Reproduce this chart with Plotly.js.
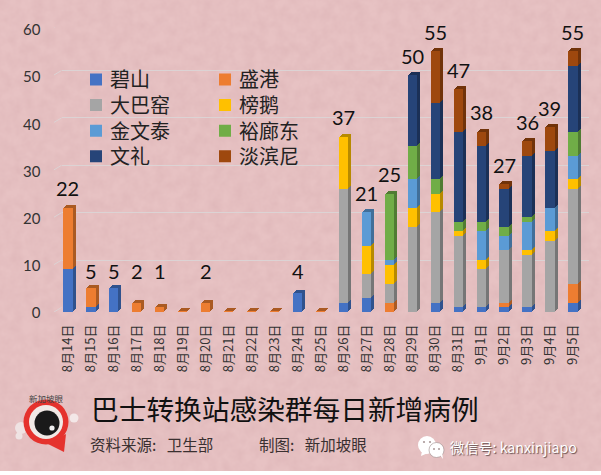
<!DOCTYPE html>
<html><head><meta charset="utf-8">
<script src="https://cdn.plot.ly/plotly-3.0.1.min.js"></script>
<style>
html,body{margin:0;padding:0;background:#fff;width:601px;height:475px;overflow:hidden}
#bg{position:absolute;left:0;top:0;width:601px;height:471px;background-color:#e7c2c3;
background-image:url("data:image/svg+xml;utf8,<svg xmlns='http://www.w3.org/2000/svg' width='601' height='471'><filter id='n'><feTurbulence type='fractalNoise' baseFrequency='0.09' numOctaves='3' seed='4'/><feColorMatrix values='0 0 0 0 0.62  0 0 0 0 0.36  0 0 0 0 0.38  0.42 0 0 0 -0.11'/></filter><rect width='601' height='471' filter='url(%23n)'/></svg>");}
#chart{position:absolute;left:0;top:0;width:601px;height:475px}
#chart .infolayer text[class^="legend"]{transform:translateX(-6px)}
</style></head><body>
<div id="bg"></div><div id="chart"></div>
<script>
const categories=['8月14日','8月15日','8月16日','8月17日','8月18日','8月19日','8月20日','8月21日','8月22日','8月23日','8月24日','8月25日','8月26日','8月27日','8月28日','8月29日','8月30日','8月31日','9月1日','9月2日','9月3日','9月4日','9月5日'];
const totals=[22,5,5,2,1,0,2,0,0,0,4,0,37,21,25,50,55,47,38,27,36,39,55];
const bishan =[9,1,5,0,0,0,0,0,0,0,4,0,2,3,0,0,2,1,1,1,1,0,2];
const shenggang=[13,4,0,2,1,0.2,2,0.2,0.2,0.2,0,0.2,0,0,2,0,0,0,0,1,0,0,4];
const toapayoh=[0,0,0,0,0,0,0,0,0,0,0,0,24,5,4,18,19,15,8,11,11,15,20];
const punggol=[0,0,0,0,0,0,0,0,0,0,0,0,11,6,4,4,4,1,2,0,1,2,2];
const jurong=[0,0,0,0,0,0,0,0,0,0,0,0,0,7,1,6,0,0,6,3,6,5,5];
const yulang=[0,0,0,0,0,0,0,0,0,0,0,0,0,0,14,7,3,2,2,2,1,0,5];
const wenli=[0,0,0,0,0,0,0,0,0,0,0,0,0,0,0,15,16,19,16,8,13,12,14];
const tampines=[0,0,0,0,0,0,0,0,0,0,0,0,0,0,0,0,11,9,3,1,3,5,3];
const seriesNames=['碧山','盛港','大巴窑','榜鹅','金文泰','裕廊东','文礼','淡滨尼'];
const seriesValues=[bishan,shenggang,toapayoh,punggol,jurong,yulang,wenli,tampines];
const seriesColors=['#4472c4','#ed7d31','#a5a5a5','#ffc000','#5b9bd5','#70ad47','#264478','#9e480e'];
const yTicks=[0,10,20,30,40,50,60];

const W=601,H=475;
const left=56.5,right=584.4,y0=312,y60=27.6;
const px=(v)=>v/W, py=(v)=>1-v/H;
function dark(hex,f){const n=parseInt(hex.slice(1),16);return `rgb(${(n>>16&255)*f|0},${(n>>8&255)*f|0},${(n&255)*f|0})`;}

const traces=[],layout={
  width:W,height:H,margin:{l:0,r:0,t:0,b:0,pad:0},paper_bgcolor:'rgba(0,0,0,0)',plot_bgcolor:'rgba(0,0,0,0)',
  barmode:'stack',bargap:0.6,showlegend:true,
  font:{family:'"Noto Sans CJK SC","Noto Sans",sans-serif',color:'#222'},
  annotations:[],shapes:[]
};
function axes(i,dx,dy,xo,yo){
  const sx=i===1?'xaxis':'xaxis'+i, sy=i===1?'yaxis':'yaxis'+i;
  layout[sx]=Object.assign({type:'category',categoryorder:'array',categoryarray:categories,range:[-0.5,22.5],
    domain:[px(left+dx),px(right+dx)],anchor:i===1?'y':'y'+i,showgrid:false,zeroline:false,showline:false,showticklabels:false,ticks:''},xo||{});
  layout[sy]=Object.assign({range:[0,60],domain:[py(y0-dy),py(y60-dy)],anchor:i===1?'x':'x'+i,showgrid:false,zeroline:false,showline:false,showticklabels:false,ticks:'',tickmode:'array',tickvals:yTicks},yo||{});
}
// back wall gridlines
axes(1,5,4.5,{},{showgrid:true,gridcolor:'#dcd3d4',gridwidth:1.2});
traces.push({type:'scatter',x:[categories[0]],y:[0],mode:'none',xaxis:'x',yaxis:'y',showlegend:false,hoverinfo:'skip'});
// extrusion layers behind the front faces
const layers=[[3,3],[2,2],[1,1]];
layers.forEach((o,k)=>{
  const i=k+2;
  axes(i,o[0],o[1]);
  seriesValues.forEach((v,s)=>traces.push({type:'bar',x:categories,y:v,name:seriesNames[s],xaxis:'x'+i,yaxis:'y'+i,showlegend:false,hoverinfo:'skip',
    marker:{color:dark(seriesColors[s],0.72),line:{width:0}}}));
});
// front faces with the visible x axis
axes(5,0,0,{showticklabels:true,tickangle:-90,tickmode:'array',tickvals:categories,ticktext:categories,tickfont:{size:13,color:'#333'},ticklabelstandoff:9});
// each legend entry is placed on a two-column, four-row block
const legendCells=[[76,0],[205,0],[76,1],[205,1],[76,2],[205,2],[76,3],[205,3]];
seriesValues.forEach((v,s)=>{
  const key=s===0?'legend':'legend'+(s+1);
  traces.push({type:'bar',x:categories,y:v,name:seriesNames[s],xaxis:'x5',yaxis:'y5',legend:key,marker:{color:seriesColors[s],line:{width:0}},hoverinfo:'skip'});
  layout[key]={x:px(legendCells[s][0]),y:py(60+legendCells[s][1]*25.6),xanchor:'left',yanchor:'top',font:{size:20,color:'#222'},bgcolor:'rgba(0,0,0,0)',itemclick:false,itemdoubleclick:false};
});
// value axis labels
axes(6,0,0,{},{domain:[py(313),py(30)],showticklabels:true,ticktext:yTicks.map(String),tickfont:{size:15,color:'#333',family:'Lato,sans-serif'},ticklabelstandoff:15});
traces.push({type:'scatter',x:[categories[0]],y:[0],mode:'none',xaxis:'x6',yaxis:'y6',showlegend:false,hoverinfo:'skip'});

// total labels
categories.forEach((c,i)=>{ if(!totals[i])return;
  const t=totals[i];
  layout.annotations.push({x:c,y:t<=5?8.7:t+4.1,xref:'x5',yref:'y5',text:String(t),showarrow:false,
    font:{size:20,color:'#111',family:'Lato,sans-serif'},xanchor:'center',yanchor:'middle'});
});
// floor / wall joints
yTicks.forEach(v=>layout.shapes.push({type:'line',xref:'paper',yref:'y5',x0:px(54),x1:px(61.5),y0:v,y1:v+0.95,line:{color:'#dcd3d4',width:1},layer:'below'}));

function note(x,y,text,size,color,anchor,extra){
  layout.annotations.push(Object.assign({xref:'paper',yref:'paper',x:px(x),y:py(y),text:text,showarrow:false,xanchor:anchor||'left',yanchor:'middle',
    font:Object.assign({size:size,color:color},extra||{})}));
}
note(89,407.5,'巴士转换站感染群每日新增病例',27.7,'#111');
note(88,444,'资料来源: &nbsp;&nbsp;卫生部',15.5,'#3a3030');
note(257,444,'制图: &nbsp;&nbsp;新加坡眼',15.5,'#3a3030');
note(448,447,'微信号: kanxinjiapo',14.2,'#fff','left',{shadow:'1px 1px 1px rgba(60,40,40,0.75)'});
note(46,397.5,'新加坡眼',8.5,'#444','center');

function circle(cx,cy,r,color,lc){layout.shapes.push({type:'circle',xref:'paper',yref:'paper',x0:px(cx-r),x1:px(cx+r),y0:py(cy+r),y1:py(cy-r),fillcolor:color,line:lc?{width:0.6,color:lc}:{width:0},layer:'above'});}
function path(pts,color){layout.shapes.push({type:'path',xref:'paper',yref:'paper',path:'M'+pts.map(p=>px(p[0])+','+py(p[1])).join('L')+'Z',fillcolor:color,line:{width:0},layer:'above'});}
// logo
circle(21,428,6,'#efe3e3');circle(19,436,3.5,'#efe3e3');circle(74,418,4.5,'#f3e7e7');
path([[48,444],[66,434],[64,452]],'#e5322d');
circle(46,422,22.5,'#e5322d');circle(46,422,17,'#f1e9e6');circle(47,423,12.5,'#1a1a1a');
circle(52,428,2.6,'#eee');
// WeChat icon
circle(427,445,9,'#fff');path([[422,451],[421,456],[428,453]],'#fff');
circle(436.5,450,7.5,'#fff','#9a8a8a');path([[440,455],[443,459],[442,452]],'#fff');
circle(424,442,1.1,'#a99');circle(430,442,1.1,'#a99');circle(434,449,1,'#a99');circle(439,449,1,'#a99');

Plotly.newPlot('chart',traces,layout,{displayModeBar:false});
</script></body></html>
